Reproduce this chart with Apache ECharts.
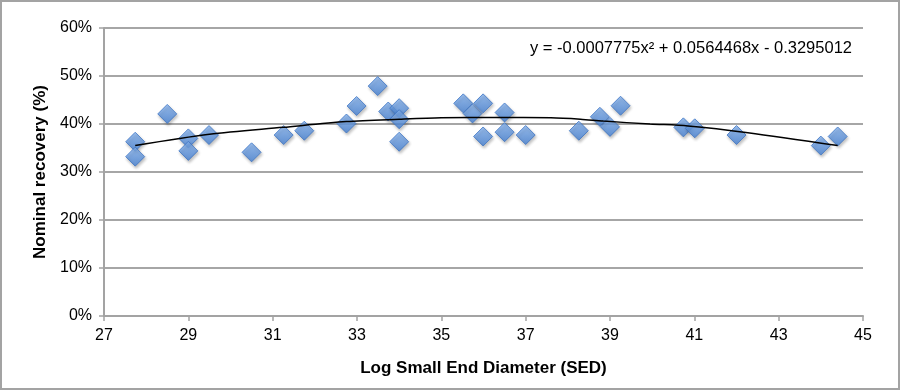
<!DOCTYPE html>
<html>
<head>
<meta charset="utf-8">
<script src="https://cdn.jsdelivr.net/npm/echarts@6/dist/echarts.min.js"></script>
<style>
html,body{margin:0;padding:0;background:#fff;}
#chart{width:902px;height:392px;}
</style>
</head>
<body>
<div id="chart"></div>
<script>
// Data
var sedValues = [27.74, 27.74, 28.5, 29.0, 29.0, 29.49, 30.5, 31.26, 31.75, 32.75, 32.99, 33.49, 33.74, 34.0, 34.0, 34.0,
                 35.52, 35.74, 35.99, 35.99, 36.5, 36.5, 37.0, 38.26, 38.76, 39.0, 39.25, 40.74, 41.01, 42.0, 44.0, 44.4];
var recoveryValues = [36.3, 33.2, 42.1, 37.0, 34.4, 37.7, 34.1, 37.7, 38.6, 40.1, 43.75, 47.9, 42.6, 43.3, 41.0, 36.3,
                      44.3, 42.2, 44.3, 37.4, 42.4, 38.3, 37.7, 38.6, 41.5, 39.4, 43.8, 39.3, 39.1, 37.7, 35.5, 37.4];
var trendX = [27.74, 29.5, 31.25, 32.75, 34.0, 35.0, 36.3, 37.6, 38.3, 38.84, 39.95, 40.85, 42.27, 44.4];
var trendY = [35.5, 37.85, 39.3, 40.5, 41.0, 41.3, 41.35, 41.3, 41.0, 40.6, 40.0, 39.6, 38.2, 35.5];
var xTicks = [27, 29, 31, 33, 35, 37, 39, 41, 43, 45];
var yTicks = [0, 10, 20, 30, 40, 50, 60];
var equationText = 'y = -0.0007775x\u00B2 + 0.0564468x - 0.3295012';
var xTitle = 'Log Small End Diameter (SED)';
var yTitle = 'Nominal recovery (%)';

var points = sedValues.map(function (v, i) { return [v, recoveryValues[i]]; });
var trend = trendX.map(function (v, i) { return [v, trendY[i]]; });

var chart = echarts.init(document.getElementById('chart'), null, {renderer: 'canvas'});
var font = '"Liberation Sans", Arial, Helvetica, sans-serif';
chart.setOption({
  animation: false,
  backgroundColor: '#ffffff',
  textStyle: {fontFamily: font},
  grid: {left: 104, right: 39, top: 28, bottom: 76, containLabel: false},
  graphic: [
    {type: 'rect', shape: {x: 1, y: 1, width: 898, height: 388},
     style: {fill: 'none', stroke: '#a3a3a3', lineWidth: 2}, z: 100},
    {type: 'text', right: 50, top: 40,
     style: {text: equationText, font: '16.5px ' + font, fill: '#000'}}
  ],
  xAxis: {
    type: 'value', min: xTicks[0], max: xTicks[xTicks.length - 1], interval: 2,
    name: xTitle, nameLocation: 'middle', nameGap: 44,
    nameTextStyle: {fontFamily: font, fontSize: 17, fontWeight: 'bold', color: '#000'},
    axisLine: {show: true, lineStyle: {color: '#a3a3a3', width: 2}},
    axisTick: {show: true, length: 5, inside: false, lineStyle: {color: '#a3a3a3', width: 1.5}},
    axisLabel: {fontFamily: font, fontSize: 16, color: '#000', margin: 12},
    splitLine: {show: false}
  },
  yAxis: {
    type: 'value', min: yTicks[0], max: yTicks[yTicks.length - 1], interval: 10,
    name: yTitle, nameLocation: 'middle', nameGap: 53,
    nameTextStyle: {fontFamily: font, fontSize: 17, fontWeight: 'bold', color: '#000'},
    axisLine: {show: true, lineStyle: {color: '#a3a3a3', width: 2}},
    axisTick: {show: true, length: 5, inside: false, lineStyle: {color: '#a3a3a3', width: 1.5}},
    axisLabel: {fontFamily: font, fontSize: 16, color: '#000', margin: 12, formatter: '{value}%'},
    splitLine: {show: true, lineStyle: {color: '#a6a6a6', width: 2}}
  },
  series: [
    {
      type: 'scatter', data: points, symbol: 'diamond', symbolSize: 19, z: 2,
      itemStyle: {
        color: new echarts.graphic.LinearGradient(0, 0, 0, 1, [
          {offset: 0, color: '#88b6f2'}, {offset: 1, color: '#4581d4'}
        ]),
        borderColor: '#3f76c4', borderWidth: 1,
        shadowColor: 'rgba(0,0,0,0.3)', shadowBlur: 3, shadowOffsetX: 1, shadowOffsetY: 2
      }
    },
    {
      type: 'line', data: trend, showSymbol: false, symbol: 'none', smooth: 0.3, z: 3,
      lineStyle: {color: '#000', width: 1.5}
    }
  ]
});
</script>
</body>
</html>
